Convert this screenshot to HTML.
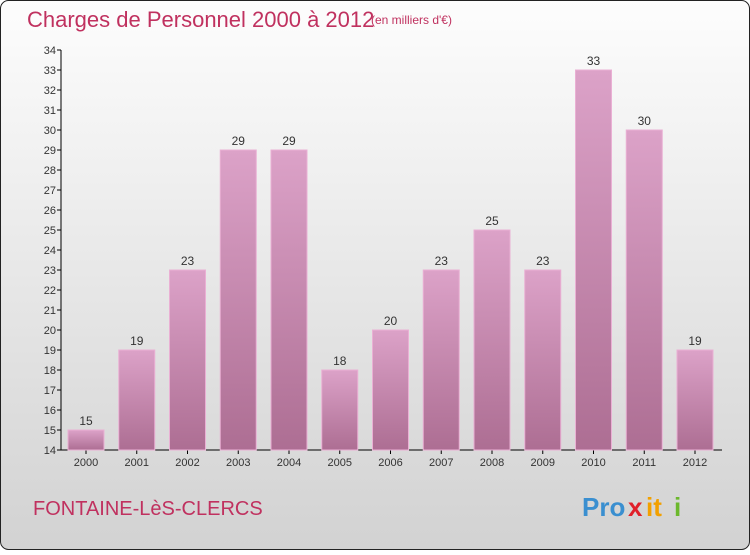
<!DOCTYPE html>
<html><head><meta charset="utf-8"><style>
html,body{margin:0;padding:0}
body{width:750px;height:550px;overflow:hidden;font-family:"Liberation Sans",sans-serif}
</style></head><body>
<svg width="750" height="550" xmlns="http://www.w3.org/2000/svg">
<defs>
<linearGradient id="bg" x1="0" y1="0" x2="0" y2="1"><stop offset="0" stop-color="#fdfdfd"/><stop offset="1" stop-color="#d2d2d2"/></linearGradient>
<linearGradient id="bar" x1="0" y1="0" x2="0" y2="1"><stop offset="0" stop-color="#dca2c8"/><stop offset="1" stop-color="#ad6e93"/></linearGradient>
</defs>
<rect x="0.5" y="0.5" width="749" height="549" rx="8" fill="url(#bg)" stroke="#222"/>
<text x="27" y="27" font-size="22" fill="#c0315f">Charges de Personnel 2000 à 2012</text>
<text x="371" y="24" font-size="12" fill="#c0315f">(en milliers d'€)</text>
<text x="33" y="515" font-size="20" fill="#c0315f">FONTAINE-LèS-CLERCS</text>
<g font-size="26" font-weight="bold">
<text x="582" y="516" fill="#3a8fd0">Pro</text><text x="628" y="516" fill="#e0202a">x</text><text x="646" y="516" fill="#f2a000">it</text><text x="674" y="516" fill="#6cb82c">i</text>
</g>
<g id="axes"></g><g id="bars"></g>
</svg>
<script>
const years=["2000","2001","2002","2003","2004","2005","2006","2007","2008","2009","2010","2011","2012"];
const values=[15,19,23,29,29,18,20,23,25,23,33,30,19];
const yTicks=[14,15,16,17,18,19,20,21,22,23,24,25,26,27,28,29,30,31,32,33,34];
const NS="http://www.w3.org/2000/svg";
const y=v=>450-(v-14)*20;
const x=i=>86+i*50.75;
function mk(t,a,p){const e=document.createElementNS(NS,t);for(const k in a)e.setAttribute(k,a[k]);p.appendChild(e);return e;}
const ax=document.getElementById('axes'),bg=document.getElementById('bars');
const yl=mk('line',{x1:61,y1:50,x2:61,y2:450,stroke:'#000'},ax);


const xl=mk('line',{x1:61,y1:450,x2:722,y2:450,stroke:'#000'},ax);


yTicks.forEach(v=>{
 mk('line',{x1:57,y1:y(v),x2:61,y2:y(v),stroke:'#000'},ax);
 const t=mk('text',{x:56,y:y(v)+4,'font-size':11,fill:'#333','text-anchor':'end'},ax);t.textContent=v;
 
 
});
years.forEach((yr,i)=>{
 const cx=x(i),v=values[i];
 const r=mk('rect',{x:cx-18,y:y(v),width:36,height:450-y(v),fill:'url(#bar)',stroke:'#eab0d4','stroke-width':1},bg);
 
 
 const l=mk('text',{x:cx,y:y(v)-5,'font-size':12,fill:'#333','text-anchor':'middle'},bg);l.textContent=v;
 
 
 mk('line',{x1:cx,y1:450,x2:cx,y2:454,stroke:'#000'},ax);
 const t=mk('text',{x:cx,y:466,'font-size':11,fill:'#333','text-anchor':'middle'},ax);t.textContent=yr;
 
 
});
</script>
</body></html>
